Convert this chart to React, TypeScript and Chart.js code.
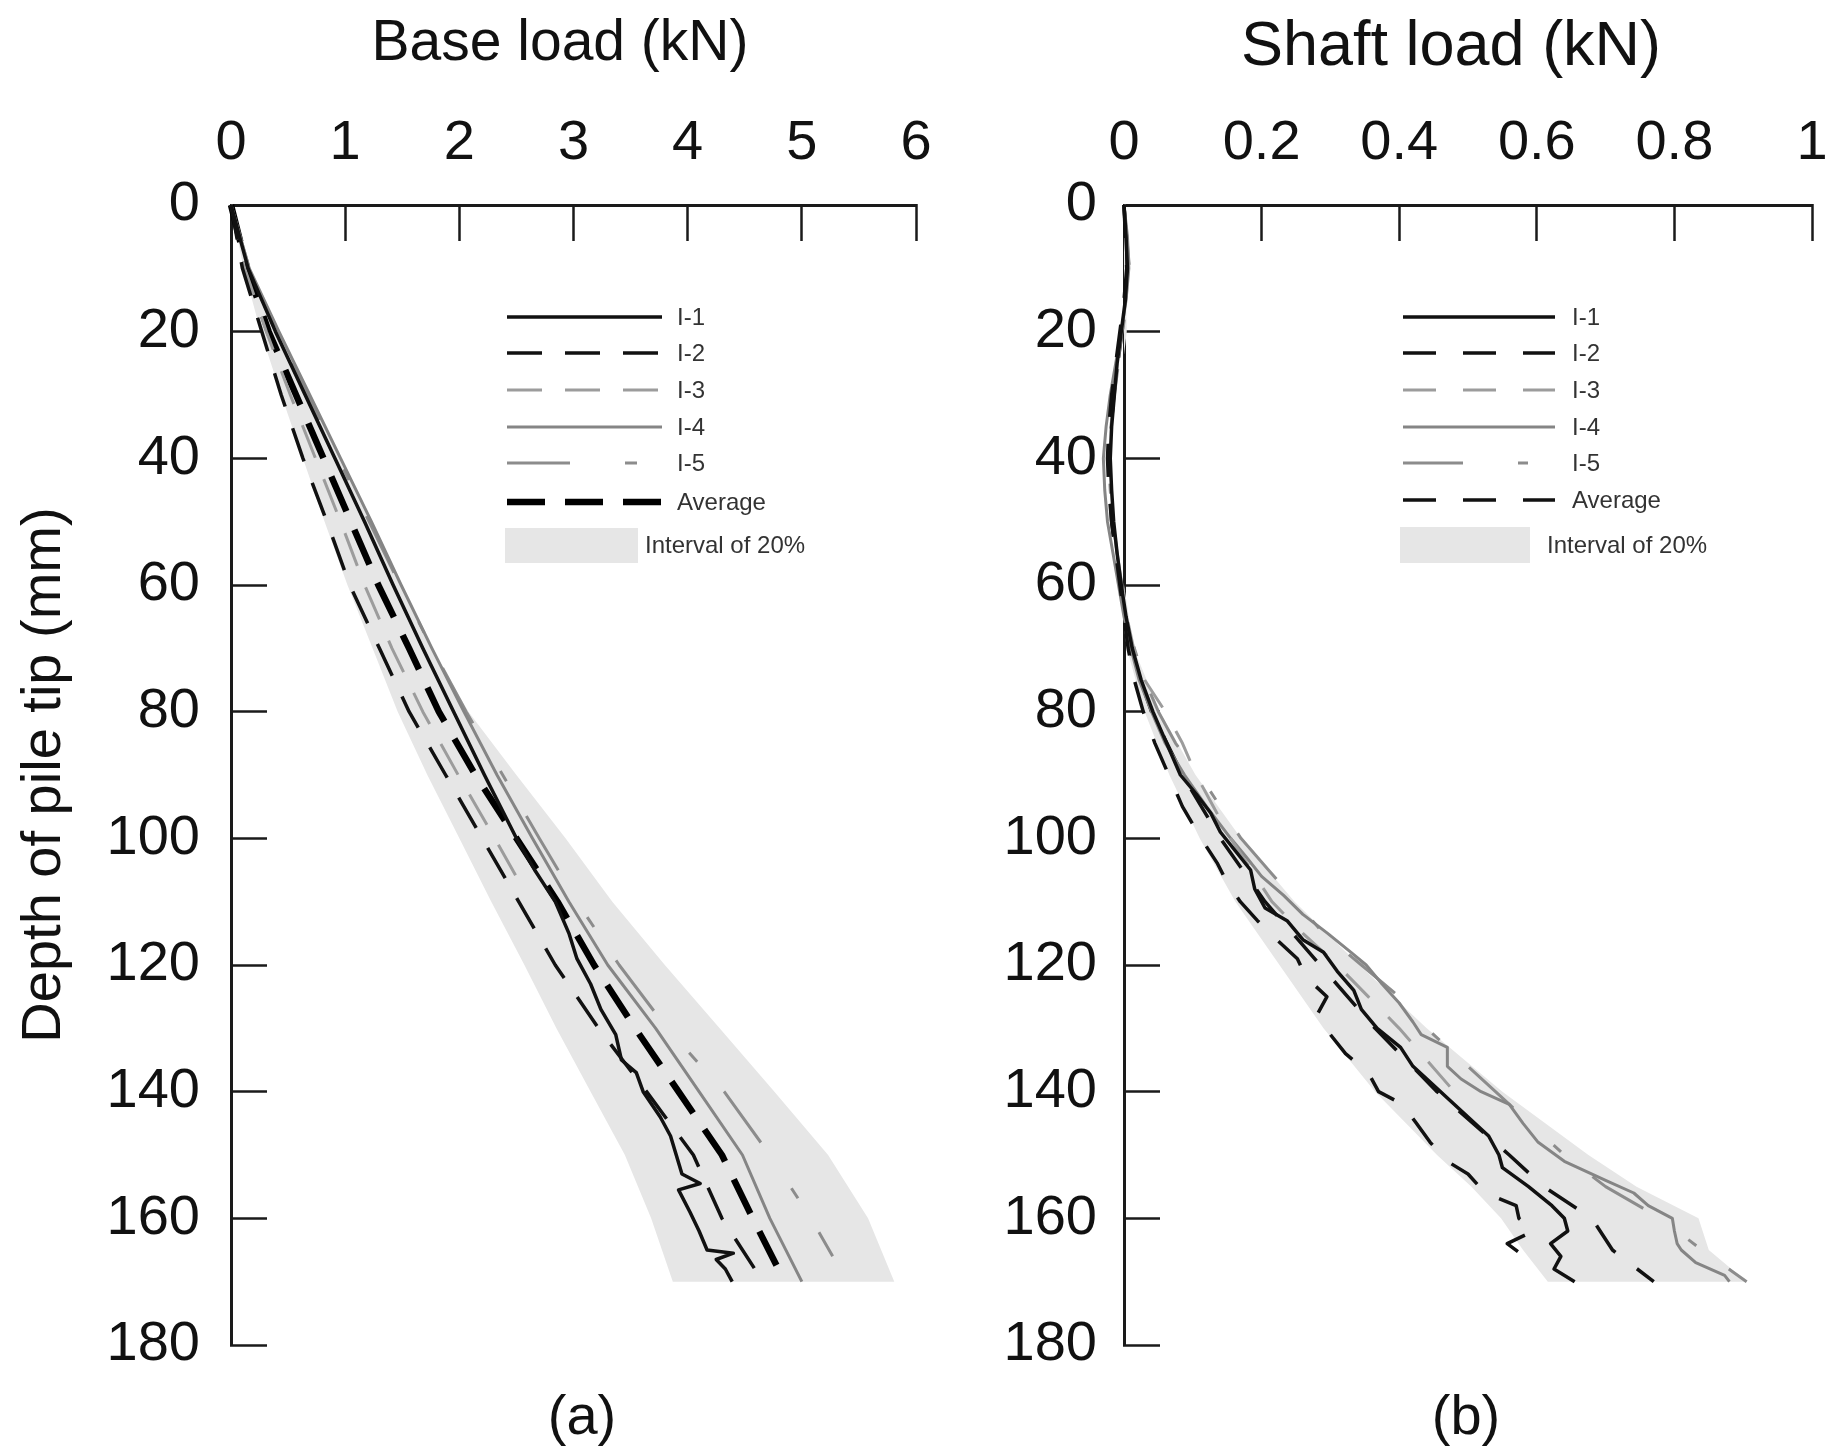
import React, { useEffect, useRef } from 'react';
import { Chart, registerables } from 'chart.js';

Chart.register(...registerables);

const FONT = "'Liberation Sans', Arial, Helvetica, sans-serif";

// ---------------- (a) Base load ----------------
const baseDepth = [0, 10, 20, 30, 40, 50, 60, 70, 80, 90, 100, 110, 120, 130, 140, 150, 160, 170];
const baseI1Depth = [0, 10, 20, 30, 40, 50, 60, 70, 80, 90, 100, 105, 110, 115, 119, 123, 127, 131, 135, 137, 140, 144, 147, 150, 153, 154.5, 155.5, 159, 162, 165, 165.5, 166.5, 168, 170];
const baseI1 = [0, 0.15, 0.39, 0.65, 0.91, 1.17, 1.42, 1.68, 1.95, 2.22, 2.5, 2.66, 2.84, 2.96, 3.03, 3.15, 3.24, 3.37, 3.42, 3.55, 3.61, 3.76, 3.85, 3.9, 3.95, 4.11, 3.92, 4.02, 4.1, 4.17, 4.4, 4.25, 4.33, 4.39];
const baseI2 = [0, 0.1, 0.27, 0.44, 0.63, 0.84, 1.04, 1.3, 1.56, 1.88, 2.2, 2.52, 2.84, 3.22, 3.64, 4.05, 4.3, 4.66];
const baseI3Depth = [0, 10, 20, 30, 40, 50, 60, 70, 80, 90, 100, 108];
const baseI3 = [0, 0.12, 0.31, 0.52, 0.74, 0.96, 1.17, 1.41, 1.68, 1.99, 2.31, 2.56];
const baseI4 = [0, 0.16, 0.42, 0.69, 0.96, 1.23, 1.49, 1.76, 2.04, 2.33, 2.64, 2.96, 3.3, 3.72, 4.1, 4.48, 4.72, 5.0];
const baseI5Depth = [0, 10, 20, 30, 40, 50, 60, 70, 80, 90, 100, 110, 120, 130, 140, 150, 160, 166];
const baseI5 = [0, 0.16, 0.41, 0.67, 0.94, 1.21, 1.48, 1.76, 2.06, 2.38, 2.7, 3.03, 3.4, 3.82, 4.32, 4.72, 5.08, 5.27];
const baseAvg = [0, 0.14, 0.33, 0.57, 0.81, 1.05, 1.29, 1.56, 1.82, 2.14, 2.5, 2.86, 3.18, 3.54, 3.92, 4.3, 4.57, 4.85];
const baseBandLow = [0, 0.11, 0.26, 0.44, 0.63, 0.82, 1.02, 1.24, 1.46, 1.72, 2.0, 2.28, 2.57, 2.85, 3.15, 3.45, 3.68, 3.87];
const baseBandHigh = [0, 0.17, 0.42, 0.68, 0.96, 1.23, 1.5, 1.76, 2.08, 2.5, 2.93, 3.34, 3.8, 4.28, 4.76, 5.23, 5.58, 5.81];

// ---------------- (b) Shaft load ----------------
const shaftI1Depth = [0, 5, 10, 15, 20, 25, 30, 35, 40, 45, 50, 55, 60, 65, 70, 75, 80, 85, 90, 93, 96, 99, 102, 105, 108, 111, 113, 116, 118, 121, 124, 127, 130, 133, 136, 139, 141, 144, 147, 150, 152, 155, 158, 160, 162, 164, 166, 168, 170];
const shaftI1 = [0, 0.003, 0.005, 0.002, -0.004, -0.01, -0.014, -0.018, -0.02, -0.018, -0.015, -0.01, -0.004, 0.003, 0.012, 0.025, 0.042, 0.062, 0.082, 0.105, 0.126, 0.14, 0.162, 0.184, 0.19, 0.205, 0.237, 0.26, 0.29, 0.31, 0.334, 0.345, 0.368, 0.402, 0.42, 0.45, 0.47, 0.5, 0.53, 0.545, 0.55, 0.588, 0.622, 0.64, 0.645, 0.62, 0.635, 0.625, 0.655];
const shaftI2Depth = [0, 5, 10, 15, 20, 25, 30, 35, 40, 45, 50, 55, 60, 65, 70, 75, 80, 85, 90, 95, 100, 104, 107, 110, 113, 116, 119, 122, 125, 128, 131, 134, 137, 140, 142, 145, 148, 151, 153, 156, 158, 160, 162, 164, 166];
const shaftI2 = [0, 0.002, 0.004, 0.0, -0.006, -0.012, -0.018, -0.022, -0.024, -0.022, -0.018, -0.012, -0.006, 0.0, 0.006, 0.015, 0.028, 0.045, 0.065, 0.085, 0.112, 0.136, 0.15, 0.169, 0.194, 0.222, 0.252, 0.265, 0.295, 0.28, 0.3, 0.322, 0.355, 0.37, 0.405, 0.425, 0.445, 0.47, 0.5, 0.525, 0.57, 0.574, 0.595, 0.557, 0.582];
const shaftI3Depth = [0, 5, 10, 15, 20, 25, 30, 35, 40, 45, 50, 55, 60, 65, 70, 75, 80, 85, 90, 95, 100, 105, 110, 115, 120, 125, 130, 135, 140];
const shaftI3 = [0, 0.004, 0.006, 0.003, -0.003, -0.009, -0.015, -0.02, -0.023, -0.021, -0.017, -0.011, -0.004, 0.004, 0.014, 0.03, 0.06, 0.085, 0.105, 0.13, 0.155, 0.185, 0.215, 0.26, 0.31, 0.355, 0.4, 0.44, 0.48];
const shaftI4Depth = [0, 5, 10, 15, 20, 25, 30, 35, 40, 45, 50, 55, 60, 65, 70, 75, 80, 85, 90, 95, 100, 103, 106, 109, 112, 115, 118, 120, 123, 126, 129, 131, 133, 136, 138, 140, 142, 145, 148, 151, 154, 156, 158, 160, 162, 164, 165, 167, 169, 170];
const shaftI4 = [0, 0.005, 0.007, 0.003, -0.004, -0.012, -0.02, -0.026, -0.03, -0.028, -0.024, -0.016, -0.008, 0.0, 0.01, 0.022, 0.04, 0.06, 0.088, 0.12, 0.155, 0.178, 0.2, 0.232, 0.26, 0.296, 0.33, 0.352, 0.375, 0.4, 0.42, 0.432, 0.47, 0.47, 0.49, 0.519, 0.56, 0.58, 0.602, 0.64, 0.7, 0.741, 0.762, 0.797, 0.8, 0.804, 0.81, 0.831, 0.873, 0.88];
const shaftI5Depth = [0, 5, 10, 15, 20, 25, 30, 35, 40, 45, 50, 55, 60, 65, 70, 75, 80, 85, 90, 95, 100, 105, 110, 115, 120, 125, 130, 135, 140, 145, 150, 155, 160, 165, 170];
const shaftI5 = [0, 0.004, 0.008, 0.004, -0.002, -0.008, -0.014, -0.019, -0.022, -0.02, -0.016, -0.01, -0.003, 0.005, 0.015, 0.03, 0.05, 0.075, 0.11, 0.14, 0.17, 0.21, 0.25, 0.29, 0.345, 0.4, 0.44, 0.49, 0.54, 0.59, 0.64, 0.7, 0.78, 0.84, 0.905];
const shaftAvgDepth = [0, 10, 20, 30, 40, 50, 60, 70, 80, 90, 100, 110, 120, 130, 140, 150, 155, 160, 165, 170];
const shaftAvg = [0, 0.005, -0.003, -0.015, -0.022, -0.018, -0.006, 0.008, 0.04, 0.085, 0.14, 0.205, 0.285, 0.365, 0.455, 0.56, 0.61, 0.68, 0.71, 0.77];
const shaftBandDepth = [0, 20, 40, 60, 70, 80, 90, 100, 110, 120, 130, 140, 150, 155, 160, 165, 170];
const shaftBandLow = [0, -0.004, -0.024, -0.008, 0.004, 0.03, 0.066, 0.11, 0.162, 0.226, 0.29, 0.365, 0.455, 0.505, 0.548, 0.58, 0.616];
const shaftBandHigh = [0, 0.004, -0.018, 0.0, 0.014, 0.052, 0.104, 0.17, 0.248, 0.342, 0.44, 0.55, 0.675, 0.745, 0.835, 0.85, 0.905];

const seriesLabels = ['I-1', 'I-2', 'I-3', 'I-4', 'I-5', 'Average'];
const bandLabel = 'Interval of 20%';
const depthTicks = { min: 0, max: 180, step: 20 };

function pts(depths: number[], loads: number[]) {
  return loads.map((v, i) => ({ x: v, y: depths[i] }));
}
function shape(dHigh: number[], high: number[], dLow: number[], low: number[]) {
  return [...pts(dHigh, high), ...pts(dLow, low).reverse()];
}

// Legend + panel captions drawn onto the chart canvas
const legendPlugin = {
  id: 'pileLegend',
  afterDraw(chart: any, _args: any, opts: any) {
    if (!opts || !opts.rows) return;
    const ctx = chart.ctx;
    const ds = chart.data.datasets;
    ctx.save();
    ctx.font = `${opts.fontSize}px ${FONT}`;
    ctx.textBaseline = 'middle';
    ctx.textAlign = 'left';
    for (let i = 0; i < opts.rows.length; i++) {
      const d = ds[i];
      const y = opts.rows[i];
      ctx.beginPath();
      ctx.setLineDash(d.borderDash || []);
      ctx.lineDashOffset = 0;
      ctx.lineWidth = d.borderWidth;
      ctx.strokeStyle = d.borderColor;
      ctx.lineCap = 'butt';
      ctx.moveTo(opts.lineX1, y);
      ctx.lineTo(opts.lineX2, y);
      ctx.stroke();
      ctx.setLineDash([]);
      ctx.fillStyle = opts.textColor;
      ctx.fillText(d.label, opts.labelX, y + 1);
    }
    const b = ds[ds.length - 1];
    const [bx1, by1, bx2, by2] = opts.box;
    ctx.fillStyle = b.backgroundColor;
    ctx.fillRect(bx1, by1, bx2 - bx1, by2 - by1);
    ctx.fillStyle = opts.textColor;
    ctx.fillText(b.label, opts.boxLabelX, (by1 + by2) / 2 + 1);

    // captions: axis title on top, panel label at bottom
    ctx.textAlign = 'center';
    ctx.fillStyle = '#111';
    for (const c of opts.captions || []) {
      ctx.font = `${c.size}px ${FONT}`;
      ctx.fillText(c.text, c.x, c.y);
    }
    ctx.restore();
  },
};

type Panel = {
  yWidth: number;
  padRight: number;
  xMax: number;
  xStep: number;
  yTitle: string | null;
  yLabelPad: number;
  datasets: any[];
  legend: any;
};

const fmtTick = (v: any) => String(Number(Number(v).toFixed(2)));

function makeConfig(p: Panel): any {
  const tickFont = { family: FONT, size: 56 };
  const gridOpts = {
    display: true,
    drawOnChartArea: false,
    drawTicks: true,
    tickLength: -36,
    tickWidth: 2.5,
    tickColor: '#1a1a1a',
  };
  const borderOpts = { display: true, color: '#1a1a1a', width: 3 };
  const zeroPad = (s: any) => {
    s.paddingLeft = 0;
    s.paddingRight = 0;
    s.paddingTop = 0;
    s.paddingBottom = 0;
  };
  return {
    type: 'line',
    data: { datasets: p.datasets },
    plugins: [legendPlugin],
    options: {
      responsive: false,
      maintainAspectRatio: false,
      devicePixelRatio: 1,
      animation: false,
      events: [],
      layout: { padding: { left: 0, top: 0, right: p.padRight, bottom: 108 } },
      elements: { point: { radius: 0 }, line: { tension: 0, borderJoinStyle: 'round' } },
      plugins: {
        legend: { display: false },
        tooltip: { enabled: false },
        pileLegend: p.legend,
      },
      scales: {
        x: {
          type: 'linear',
          position: 'top',
          min: 0,
          max: p.xMax,
          ticks: {
            stepSize: p.xStep,
            font: tickFont,
            color: '#111',
            padding: 64,
            autoSkip: false,
            maxRotation: 0,
            callback: fmtTick,
          },
          grid: gridOpts,
          border: borderOpts,
          title: { display: false },
          afterFit: (s: any) => {
            s.height = 205;
            zeroPad(s);
          },
        },
        y: {
          type: 'linear',
          position: 'left',
          reverse: true,
          min: depthTicks.min,
          max: depthTicks.max,
          ticks: { stepSize: depthTicks.step, font: tickFont, color: '#111', padding: p.yLabelPad, autoSkip: false },
          grid: gridOpts,
          border: borderOpts,
          title: {
            display: !!p.yTitle,
            text: p.yTitle || '',
            color: '#111',
            font: { family: FONT, size: 56 },
            padding: { top: 11, bottom: 0 },
          },
          afterFit: (s: any) => {
            s.width = p.yWidth;
            zeroPad(s);
          },
        },
      },
    },
  };
}

function lineDs(label: string, data: any[], color: string, width: number, dash: number[]) {
  return {
    label,
    data,
    borderColor: color,
    backgroundColor: color,
    borderWidth: width,
    borderDash: dash,
    fill: false,
    clip: false,
    pointRadius: 0,
    xAxisID: 'x',
    yAxisID: 'y',
    order: 0,
  };
}

function bandDs(data: any[]) {
  return {
    label: bandLabel,
    data,
    borderColor: 'rgba(0,0,0,0)',
    backgroundColor: '#e6e6e6',
    borderWidth: 0,
    fill: 'shape',
    pointRadius: 0,
    xAxisID: 'x',
    yAxisID: 'y',
    order: 10,
  };
}

const leftDatasets = () => [
  lineDs(seriesLabels[0], pts(baseI1Depth, baseI1), '#111111', 3.5, []),
  lineDs(seriesLabels[1], pts(baseDepth, baseI2), '#111111', 3.5, [35, 23]),
  lineDs(seriesLabels[2], pts(baseI3Depth, baseI3), '#9c9c9c', 3, [35, 23]),
  lineDs(seriesLabels[3], pts(baseDepth, baseI4), '#858585', 3, []),
  lineDs(seriesLabels[4], pts(baseI5Depth, baseI5), '#8c8c8c', 3, [63, 55, 12, 40]),
  lineDs(seriesLabels[5], pts(baseDepth, baseAvg), '#000000', 6.5, [38, 20]),
  bandDs(shape(baseDepth, baseBandHigh, baseDepth, baseBandLow)),
];

const rightDatasets = () => [
  lineDs(seriesLabels[0], pts(shaftI1Depth, shaftI1), '#111111', 3.5, []),
  lineDs(seriesLabels[1], pts(shaftI2Depth, shaftI2), '#111111', 3.5, [33, 27]),
  lineDs(seriesLabels[2], pts(shaftI3Depth, shaftI3), '#9c9c9c', 3, [33, 27]),
  lineDs(seriesLabels[3], pts(shaftI4Depth, shaftI4), '#858585', 3, []),
  lineDs(seriesLabels[4], pts(shaftI5Depth, shaftI5), '#8c8c8c', 3, [60, 55, 10, 40]),
  lineDs(seriesLabels[5], pts(shaftAvgDepth, shaftAvg), '#111111', 3.5, [33, 27]),
  bandDs(shape(shaftBandDepth, shaftBandHigh, shaftBandDepth, shaftBandLow)),
];

export default function App() {
  const leftRef = useRef<HTMLCanvasElement>(null);
  const rightRef = useRef<HTMLCanvasElement>(null);

  useEffect(() => {
    const left = new Chart(
      leftRef.current as HTMLCanvasElement,
      makeConfig({
        yWidth: 231,
        padRight: 44,
        xMax: 6,
        xStep: 1,
        yTitle: 'Depth of pile tip (mm)',
        yLabelPad: 67,
        datasets: leftDatasets(),
        legend: {
          rows: [317, 353, 390, 427, 463, 502],
          lineX1: 507,
          lineX2: 662,
          labelX: 677,
          box: [505, 528, 638, 563],
          boxLabelX: 645,
          fontSize: 24,
          textColor: '#333',
          captions: [
            { text: 'Base load (kN)', x: 560, y: 44, size: 57 },
            { text: '(a)', x: 582, y: 1419, size: 56 },
          ],
        },
      })
    );
    const right = new Chart(
      rightRef.current as HTMLCanvasElement,
      makeConfig({
        yWidth: 164,
        padRight: 27,
        xMax: 1,
        xStep: 0.2,
        yTitle: null,
        yLabelPad: 63,
        datasets: rightDatasets(),
        legend: {
          rows: [317, 353, 390, 427, 463, 500],
          lineX1: 443,
          lineX2: 595,
          labelX: 612,
          box: [440, 527, 570, 563],
          boxLabelX: 587,
          fontSize: 24,
          textColor: '#333',
          captions: [
            { text: 'Shaft load (kN)', x: 491, y: 48, size: 63 },
            { text: '(b)', x: 506, y: 1419, size: 56 },
          ],
        },
      })
    );
    return () => {
      left.destroy();
      right.destroy();
    };
  }, []);

  return (
    <div
      style={{
        position: 'fixed',
        left: 0,
        top: 0,
        width: 1839,
        height: 1453,
        background: '#ffffff',
        overflow: 'hidden',
      }}
    >
      <canvas
        ref={leftRef}
        width={960}
        height={1453}
        style={{ position: 'absolute', left: 0, top: 0, width: 960, height: 1453 }}
      />
      <canvas
        ref={rightRef}
        width={879}
        height={1453}
        style={{ position: 'absolute', left: 960, top: 0, width: 879, height: 1453 }}
      />
    </div>
  );
}
